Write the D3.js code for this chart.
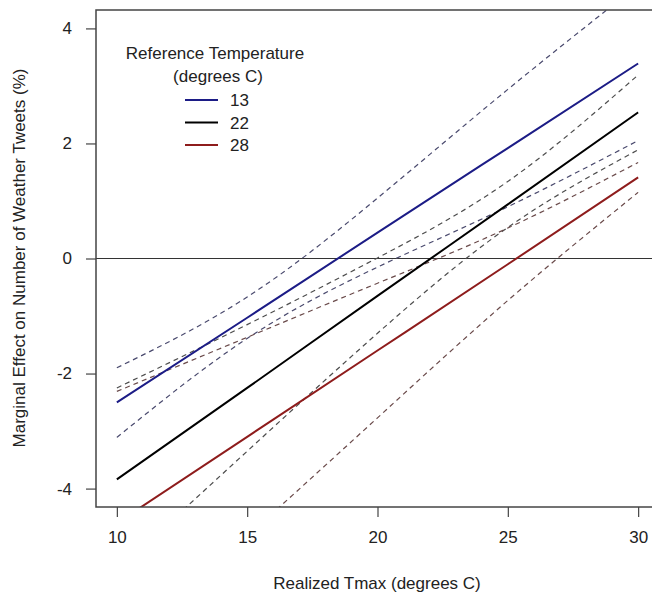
<!DOCTYPE html>
<html>
<head>
<meta charset="utf-8">
<script src="https://cdn.jsdelivr.net/npm/d3@7"></script>
<style>
  body { margin: 0; background: #fff; }
  svg { font-family: "Liberation Sans", Arial, sans-serif; }
</style>
</head>
<body>
<svg id="chart"></svg>
<script>
// realized Tmax values where the curves were read
const tmax = [10, 15, 20, 25, 30];

// marginal effect (%) for each reference temperature
const refTemps = ["13", "22", "28"];
const effect13 = [-2.50, -1.03, 0.45, 1.92, 3.39];
const effect22 = [-3.84, -2.25, -0.65, 0.94, 2.54];
const effect28 = [-4.60, -3.10, -1.60, -0.10, 1.41];

// confidence bands (dashed)
const upper13 = [-1.90, -0.67, 1.05, 2.94, 4.75];
const lower13 = [-3.11, -1.39, -0.15, 0.90, 2.05];
const upper22 = [-2.25, -1.15, 0.01, 1.34, 3.19];
const lower22 = [-5.43, -3.35, -1.30, 0.54, 1.89];
const upper28 = [-2.31, -1.37, -0.43, 0.53, 1.67];
const lower28 = [-6.89, -4.83, -2.77, -0.73, 1.15];

const xTicks = [10, 15, 20, 25, 30];
const yTicks = [-4, -2, 0, 2, 4];

const W = 652, H = 599;
const svg = d3.select("#chart").attr("width", W).attr("height", H);

// plot box (right edge runs past the window like the original)
const box = { left: 96, right: 659, top: 10, bottom: 507 };

const x = d3.scaleLinear().domain([9.2, 30.8]).range([box.left, box.right]);
const y = d3.scaleLinear().domain([-4.32, 4.32]).range([box.bottom, box.top]);

svg.append("defs").append("clipPath").attr("id", "clip")
  .append("rect")
  .attr("x", box.left).attr("y", box.top)
  .attr("width", box.right - box.left).attr("height", box.bottom - box.top);

const line = d3.line()
  .x(d => x(d[0]))
  .y(d => y(d[1]))
  .curve(d3.curveNatural);

const plot = svg.append("g").attr("clip-path", "url(#clip)");

// zero line
plot.append("line")
  .attr("x1", box.left).attr("x2", box.right)
  .attr("y1", y(0)).attr("y2", y(0))
  .attr("stroke", "#333").attr("stroke-width", 1.2);

const bands = [
  { vals: upper13, color: "#4a4a6e" },
  { vals: lower13, color: "#4a4a6e" },
  { vals: upper22, color: "#4d4d4d" },
  { vals: lower22, color: "#4d4d4d" },
  { vals: upper28, color: "#6a4a4a" },
  { vals: lower28, color: "#6a4a4a" }
];

plot.selectAll(".band")
  .data(bands)
  .enter()
  .append("path")
  .attr("class", "band")
  .attr("d", d => line(tmax.map((t, i) => [t, d.vals[i]])))
  .attr("fill", "none")
  .attr("stroke", d => d.color)
  .attr("stroke-width", 1.2)
  .attr("stroke-dasharray", "5,4");

const colors = ["#1c1c86", "#000000", "#8e1c1c"];
const means = [effect13, effect22, effect28];

plot.selectAll(".mean")
  .data(means)
  .enter()
  .append("path")
  .attr("class", "mean")
  .attr("d", d => line(tmax.map((t, i) => [t, d[i]])))
  .attr("fill", "none")
  .attr("stroke", (d, i) => colors[i])
  .attr("stroke-width", 2);

// box
svg.append("rect")
  .attr("x", box.left).attr("y", box.top)
  .attr("width", box.right - box.left).attr("height", box.bottom - box.top)
  .attr("fill", "none").attr("stroke", "#444").attr("stroke-width", 1.5);

// axes, R style (plain hyphen for negatives)
const xAxis = svg.append("g")
  .attr("transform", "translate(0," + box.bottom + ")")
  .call(d3.axisBottom(x).tickValues(xTicks).tickSize(10).tickPadding(14).tickFormat(d => String(d)));
xAxis.select(".domain").remove();

const yAxis = svg.append("g")
  .attr("transform", "translate(" + box.left + ",0)")
  .call(d3.axisLeft(y).tickValues(yTicks).tickSize(10).tickPadding(14).tickFormat(d => String(d)));
yAxis.select(".domain").remove();

svg.selectAll(".tick line").attr("stroke", "#444").attr("stroke-width", 1.2);
svg.selectAll(".tick text").attr("font-size", 17).attr("fill", "#222")
  .attr("font-family", "Liberation Sans, Arial, sans-serif");

// axis titles
svg.append("text")
  .attr("x", 377).attr("y", 589)
  .attr("text-anchor", "middle")
  .attr("font-size", 17).attr("fill", "#222")
  .text("Realized Tmax (degrees C)");

svg.append("text")
  .attr("transform", "translate(25,258) rotate(-90)")
  .attr("text-anchor", "middle")
  .attr("font-size", 17).attr("fill", "#222")
  .text("Marginal Effect on Number of Weather Tweets (%)");

// legend
const legend = svg.append("g");
legend.append("text")
  .attr("x", 215).attr("y", 59)
  .attr("text-anchor", "middle").attr("font-size", 17).attr("fill", "#222")
  .text("Reference Temperature");
legend.append("text")
  .attr("x", 218).attr("y", 82)
  .attr("text-anchor", "middle").attr("font-size", 17).attr("fill", "#222")
  .text("(degrees C)");

const items = legend.selectAll(".item")
  .data(refTemps)
  .enter()
  .append("g")
  .attr("transform", (d, i) => "translate(0," + (100 + i * 22.5) + ")");
items.append("line")
  .attr("x1", 185).attr("x2", 218)
  .attr("stroke", (d, i) => colors[i]).attr("stroke-width", 2);
items.append("text")
  .attr("x", 230).attr("y", 6)
  .attr("font-size", 17).attr("fill", "#222")
  .text(d => d);
</script>
</body>
</html>
